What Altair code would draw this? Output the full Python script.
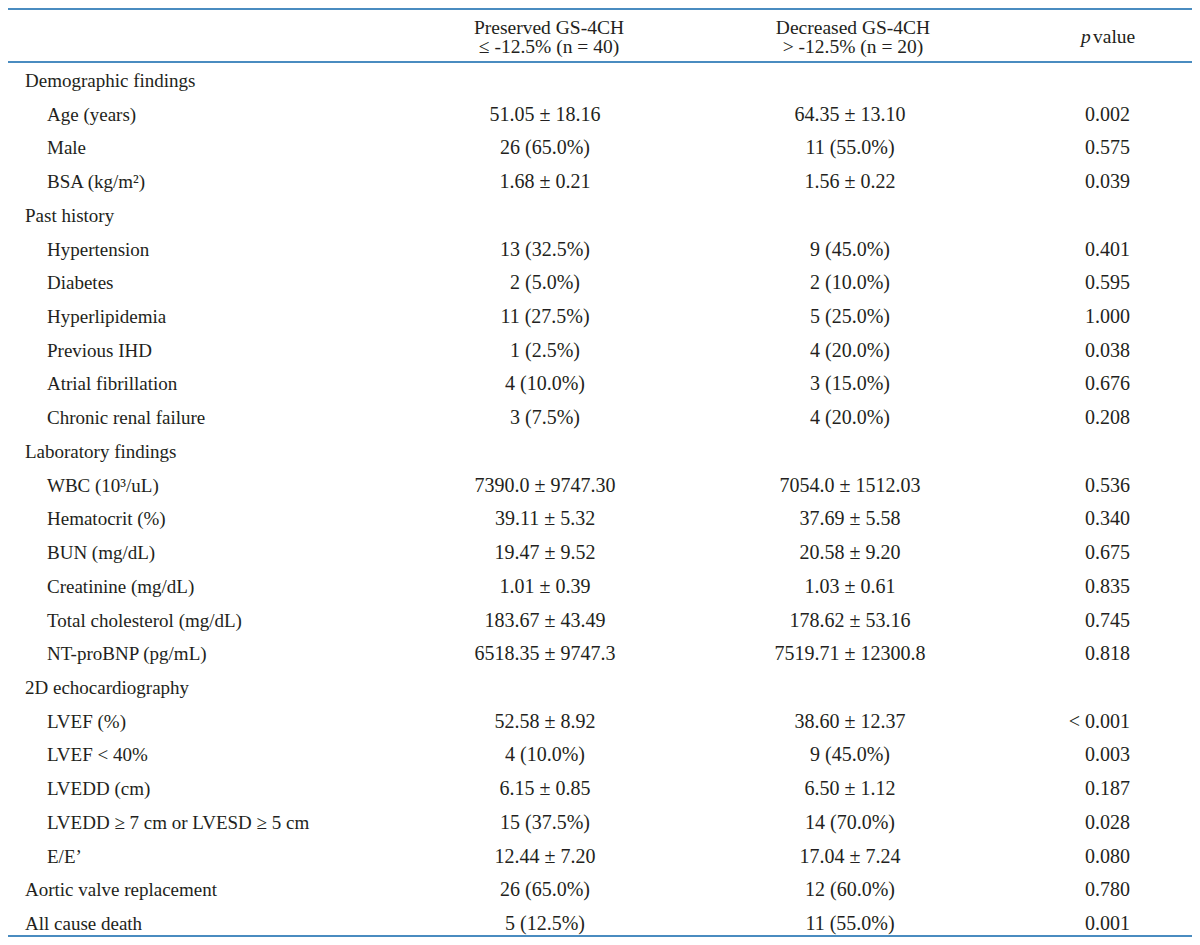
import altair as alt
import pandas as pd

labels = [
    "Demographic findings", "Age (years)", "Male", "BSA (kg/m²)",
    "Past history", "Hypertension", "Diabetes", "Hyperlipidemia", "Previous IHD",
    "Atrial fibrillation", "Chronic renal failure",
    "Laboratory findings", "WBC (10³/uL)", "Hematocrit (%)", "BUN (mg/dL)",
    "Creatinine (mg/dL)", "Total cholesterol (mg/dL)", "NT-proBNP (pg/mL)",
    "2D echocardiography", "LVEF (%)", "LVEF < 40%", "LVEDD (cm)",
    "LVEDD ≥ 7 cm or LVESD ≥ 5 cm", "E/E’",
    "Aortic valve replacement", "All cause death",
]
indent = [0, 1, 1, 1, 0, 1, 1, 1, 1, 1, 1, 0, 1, 1, 1, 1, 1, 1, 0, 1, 1, 1, 1, 1, 0, 0]
preserved = [
    "", "51.05 ± 18.16", "26 (65.0%)", "1.68 ± 0.21",
    "", "13 (32.5%)", "2 (5.0%)", "11 (27.5%)", "1 (2.5%)", "4 (10.0%)", "3 (7.5%)",
    "", "7390.0 ± 9747.30", "39.11 ± 5.32", "19.47 ± 9.52", "1.01 ± 0.39",
    "183.67 ± 43.49", "6518.35 ± 9747.3",
    "", "52.58 ± 8.92", "4 (10.0%)", "6.15 ± 0.85", "15 (37.5%)", "12.44 ± 7.20",
    "26 (65.0%)", "5 (12.5%)",
]
decreased = [
    "", "64.35 ± 13.10", "11 (55.0%)", "1.56 ± 0.22",
    "", "9 (45.0%)", "2 (10.0%)", "5 (25.0%)", "4 (20.0%)", "3 (15.0%)", "4 (20.0%)",
    "", "7054.0 ± 1512.03", "37.69 ± 5.58", "20.58 ± 9.20", "1.03 ± 0.61",
    "178.62 ± 53.16", "7519.71 ± 12300.8",
    "", "38.60 ± 12.37", "9 (45.0%)", "6.50 ± 1.12", "14 (70.0%)", "17.04 ± 7.24",
    "12 (60.0%)", "11 (55.0%)",
]
pvalues = [
    "", "0.002", "0.575", "0.039",
    "", "0.401", "0.595", "1.000", "0.038", "0.676", "0.208",
    "", "0.536", "0.340", "0.675", "0.835", "0.745", "0.818",
    "", "< 0.001", "0.003", "0.187", "0.028", "0.080",
    "0.780", "0.001",
]
header1 = ["Preserved GS-4CH", "≤ -12.5% (n = 40)"]
header2 = ["Decreased GS-4CH", "> -12.5% (n = 20)"]

FONT = "Liberation Serif"
FS_LABEL = 19
FS_NUM = 20
FS_HEAD = 19.5
COLOR = "#231f20"
LINE = "#4a8cc0"

W, H = 1184, 929
df = pd.DataFrame({
    "row": list(range(len(labels))),
    "label": labels,
    "indent": indent,
    "pre": preserved,
    "dec": decreased,
    "p": pvalues,
})
df_sec = df[df["indent"] == 0]
df_sub = df[df["indent"] == 1]

step = 33.72
d0 = -73 / step
d1 = (H - 73) / step
Y = alt.Y("row:Q", scale=alt.Scale(domain=[d0, d1], reverse=True, nice=False, zero=False), axis=None)

def mk(data, align="left", style="normal", size=FS_LABEL):
    return alt.Chart(data).mark_text(font=FONT, fontSize=size, color=COLOR, align=align,
                                     baseline="middle", fontStyle=style)

C1, C2 = 537, 842
H1, H2 = 541, 845
sec = mk(df_sec).encode(y=Y, x=alt.value(17), text="label:N")
sub = mk(df_sub).encode(y=Y, x=alt.value(39), text="label:N")
c1 = mk(df, "center", size=FS_NUM).encode(y=Y, x=alt.value(C1), text="pre:N")
c2 = mk(df, "center", size=FS_NUM).encode(y=Y, x=alt.value(C2), text="dec:N")
c3 = mk(df, "right", size=FS_NUM).encode(y=Y, x=alt.value(1122), text="p:N")

h1a = mk(pd.DataFrame({"t": [header1[0]]}), "center", size=FS_HEAD).encode(y=alt.value(20), x=alt.value(H1), text="t:N")
h1b = mk(pd.DataFrame({"t": [header1[1]]}), "center", size=FS_HEAD).encode(y=alt.value(39), x=alt.value(H1), text="t:N")
h2a = mk(pd.DataFrame({"t": [header2[0]]}), "center", size=FS_HEAD).encode(y=alt.value(20), x=alt.value(H2), text="t:N")
h2b = mk(pd.DataFrame({"t": [header2[1]]}), "center", size=FS_HEAD).encode(y=alt.value(39), x=alt.value(H2), text="t:N")
hp = mk(pd.DataFrame({"t": ["p"]}), "left", "italic", FS_HEAD).encode(y=alt.value(29), x=alt.value(1073), text="t:N")
hv = mk(pd.DataFrame({"t": ["value"]}), "left", size=FS_HEAD).encode(y=alt.value(29), x=alt.value(1085), text="t:N")

ldf = pd.DataFrame({"k": [0]})
def hline(yv):
    return alt.Chart(ldf).mark_rule(color=LINE, strokeWidth=2).encode(
        x=alt.value(-5), x2=alt.value(W + 5), y=alt.value(yv))

chart = alt.layer(
    hline(1), hline(54), hline(H - 1),
    h1a, h1b, h2a, h2b, hp, hv, sec, sub, c1, c2, c3,
).properties(width=W, height=H, padding=0,
             autosize=alt.AutoSizeParams(type="none")).configure_view(stroke=None)

chart.save("out.html", embed_options={"renderer": "svg", "actions": False})
